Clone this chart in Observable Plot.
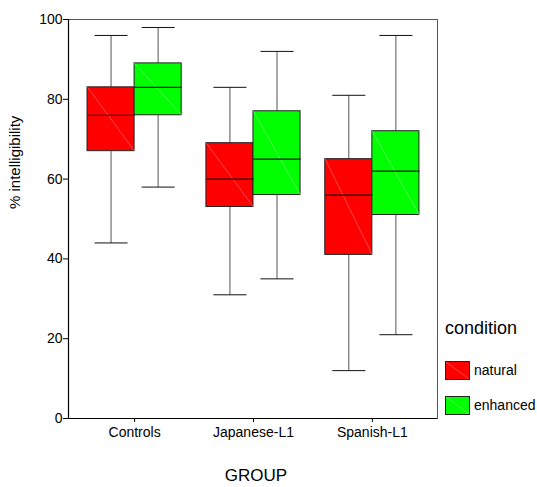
<!DOCTYPE html>
<html>
<head>
<meta charset="utf-8">
<script src="https://cdn.jsdelivr.net/npm/d3@7"></script>
<script src="https://cdn.jsdelivr.net/npm/@observablehq/plot@0.6"></script>
<style>
  body { margin: 0; background: #fff; font-family: "Liberation Sans", Arial, sans-serif; }
  #wrap { position: relative; width: 537px; height: 487px; }
  #legend { position: absolute; left: 445px; top: 0; width: 92px; height: 487px; color: #000; }
  .lt { position: absolute; white-space: nowrap; }
</style>
</head>
<body>
<div id="wrap">
  <div id="chart"></div>
  <div id="legend"></div>
</div>
<script>
// ---- data ----
const groups = ["Controls", "Japanese-L1", "Spanish-L1"];
const conditions = ["natural", "enhanced"];
const colors = ["#ff0000", "#00ff00"];
const diagColors = ["#ff7878", "#8cff8c"];
const yTicks = [0, 20, 40, 60, 80, 100];

const naturalLow    = [44, 31, 12];
const naturalQ1     = [67, 53, 41];
const naturalMedian = [76, 60, 56];
const naturalQ3     = [83, 69, 65];
const naturalHigh   = [96, 83, 81];

const enhancedLow    = [58, 35, 21];
const enhancedQ1     = [76, 56, 51];
const enhancedMedian = [83, 65, 62];
const enhancedQ3     = [89, 77, 72];
const enhancedHigh   = [98, 92, 96];

// ---- table ----
const stats = [
  [naturalLow, naturalQ1, naturalMedian, naturalQ3, naturalHigh],
  [enhancedLow, enhancedQ1, enhancedMedian, enhancedQ3, enhancedHigh]
];
const half = 0.198, cap = 0.139;
const rows = [];
groups.forEach((g, i) => {
  conditions.forEach((c, j) => {
    const s = stats[j];
    const cx = i + (j === 0 ? -half : half);
    rows.push({
      group: g, condition: c, j,
      cx, left: cx - half, right: cx + half,
      low: s[0][i], q1: s[1][i], median: s[2][i], q3: s[3][i], high: s[4][i]
    });
  });
});

const font = "Liberation Sans, Arial, sans-serif";

const plot = Plot.plot({
  width: 537,
  height: 487,
  marginLeft: 68,
  marginRight: 100,
  marginTop: 19,
  marginBottom: 69,
  style: { fontFamily: font, fontSize: "14px", background: "#fff", color: "#000" },
  x: { domain: [-0.556, 2.548] },
  y: { domain: [0, 100] },
  marks: [
    // whiskers
    Plot.link(rows, { x1: "cx", x2: "cx", y1: "low", y2: "q1", stroke: "#555", strokeWidth: 1 }),
    Plot.link(rows, { x1: "cx", x2: "cx", y1: "q3", y2: "high", stroke: "#555", strokeWidth: 1 }),
    Plot.link(rows, { x1: d => d.cx - cap, x2: d => d.cx + cap, y1: "low", y2: "low", stroke: "#111", strokeWidth: 1 }),
    Plot.link(rows, { x1: d => d.cx - cap, x2: d => d.cx + cap, y1: "high", y2: "high", stroke: "#111", strokeWidth: 1 }),
    // boxes
    Plot.rect(rows, { x1: "left", x2: "right", y1: "q1", y2: "q3", fill: d => colors[d.j], stroke: "#222", strokeWidth: 1 }),
    // faint diagonal
    Plot.link(rows, { x1: "left", x2: "right", y1: "q3", y2: "q1", stroke: d => diagColors[d.j], strokeWidth: 0.6 }),
    // medians
    Plot.link(rows, { x1: "left", x2: "right", y1: "median", y2: "median", stroke: "#111", strokeWidth: 1.2 }),
    // frame
    Plot.frame({ stroke: "#555" }),
    Plot.ruleY([0], { stroke: "#000", strokeWidth: 1.2 }),
    Plot.ruleX([-0.556], { stroke: "#000", strokeWidth: 1.2 }),
    // axes
    Plot.axisY({ ticks: yTicks, tickSize: 5, tickPadding: 1, fontSize: 14, label: null, stroke: "#000" }),
    Plot.axisX({ ticks: [0, 1, 2], tickFormat: i => groups[i], tickSize: 4, tickPadding: 5, fontSize: 14, label: null }),
    // axis titles
    Plot.text(["% intelligibility"], { frameAnchor: "left", rotate: -90, dx: -53, dy: -10, fontSize: 15, fill: "#000" }),
    Plot.text(["GROUP"], { frameAnchor: "bottom", dy: 62, dx: 3, fontSize: 17, fill: "#000" })
  ]
});
document.getElementById("chart").appendChild(plot);

// ---- legend ----
const legend = document.getElementById("legend");
const title = document.createElement("div");
title.className = "lt";
title.textContent = "condition";
title.style.cssText = "left:0px;top:318px;font-size:18px;";
legend.appendChild(title);
const swatchTops = [361, 396];
const labelTops = [362, 397];
conditions.forEach((c, j) => {
  const sw = document.createElementNS("http://www.w3.org/2000/svg", "svg");
  sw.setAttribute("width", 25);
  sw.setAttribute("height", 19);
  sw.style.cssText = `position:absolute;left:0px;top:${swatchTops[j]}px;`;
  sw.innerHTML = `<rect x="0.5" y="0.5" width="24" height="18" fill="${colors[j]}" stroke="#222"/>` +
    `<line x1="1" y1="1" x2="24" y2="18" stroke="${diagColors[j]}" stroke-width="0.6"/>`;
  legend.appendChild(sw);
  const t = document.createElement("div");
  t.className = "lt";
  t.textContent = c;
  t.style.cssText = `left:29px;top:${labelTops[j]}px;font-size:14px;`;
  legend.appendChild(t);
});
</script>
</body>
</html>
